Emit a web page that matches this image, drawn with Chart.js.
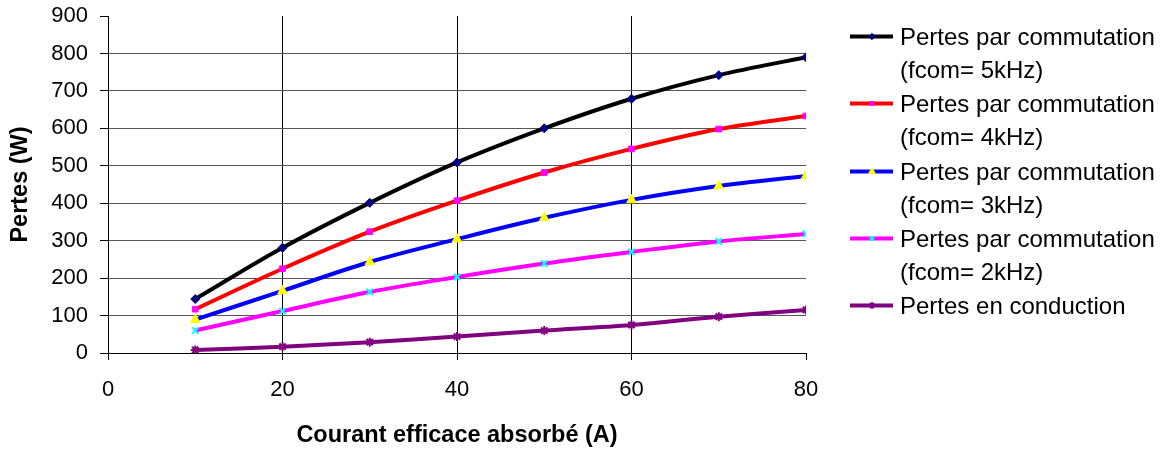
<!DOCTYPE html>
<html>
<head>
<meta charset="utf-8">
<script src="https://cdn.jsdelivr.net/npm/chart.js@4.4.1/dist/chart.umd.min.js"></script>
<style>
  html, body { margin: 0; padding: 0; background: #fff; }
  #wrap { position: relative; width: 1166px; height: 452px; overflow: hidden; }
  #c { position: absolute; left: 0; top: 0; }
  .lg { position: absolute; left: 850px; font-family: "Liberation Sans", Arial, sans-serif; font-size: 24px; line-height: 33px; color: #000; white-space: nowrap; }
  .lg canvas { position: absolute; left: 0; top: 0; }
  .lg span { position: absolute; left: 50px; top: 0; }
</style>
</head>
<body>
<div id="wrap">
  <canvas id="c" width="1166" height="452"></canvas>
</div>
<script>
// ---- data ----
const currents = [10, 20, 30, 40, 50, 60, 70, 80];
const commut5k = [144, 281, 401, 509, 600, 679, 742, 790];
const commut4k = [117, 225, 324, 407, 482, 545, 598, 633];
const commut3k = [89, 166, 243, 304, 361, 409, 446, 473];
const commut2k = [60, 112, 163, 203, 239, 270, 298, 318];
const conduction = [8, 17, 29, 44, 60, 75, 97, 115];
const xTicks = [0, 20, 40, 60, 80];
const yTicks = [0, 100, 200, 300, 400, 500, 600, 700, 800, 900];
const seriesLabels = [
  ["Pertes par commutation", "(fcom= 5kHz)"],
  ["Pertes par commutation", "(fcom= 4kHz)"],
  ["Pertes par commutation", "(fcom= 3kHz)"],
  ["Pertes par commutation", "(fcom= 2kHz)"],
  ["Pertes en conduction"]
];
const xTitle = "Courant efficace absorbé (A)";
const yTitle = "Pertes (W)";

const styles = [
  { line: '#000000', pt: 'rectRot', r: 4.5, bg: '#000080', bc: '#000080', bw: 1 },
  { line: '#FF0000', pt: 'rect', r: 4, bg: '#FF00FF', bc: '#FF00FF', bw: 1 },
  { line: '#0000FF', pt: 'triangle', r: 5.5, bg: '#FFFF00', bc: '#FFFF00', bw: 1 },
  { line: '#FF00FF', pt: 'crossRot', r: 4.5, bg: '#00FFFF', bc: '#00FFFF', bw: 2 },
  { line: '#800080', pt: 'star', r: 4.5, bg: '#800080', bc: '#800080', bw: 2 }
];
const values = [commut5k, commut4k, commut3k, commut2k, conduction];

const datasets = values.map((vals, i) => ({
  label: seriesLabels[i].join(' '),
  data: currents.map((x, k) => ({ x: x, y: vals[k] })),
  borderColor: styles[i].line,
  borderWidth: 4,
  tension: 0.35,
  pointStyle: styles[i].pt,
  pointRadius: styles[i].r,
  pointHoverRadius: styles[i].r,
  pointBackgroundColor: styles[i].bg,
  pointBorderColor: styles[i].bc,
  pointBorderWidth: styles[i].bw,
  fill: false
}));

const FONT = "'Liberation Sans', Arial, sans-serif";

new Chart(document.getElementById('c'), {
  type: 'line',
  data: { datasets: datasets },
  options: {
    responsive: false,
    animation: false,
    devicePixelRatio: 1,
    layout: { padding: { left: 0, right: 360, top: 16, bottom: 0 } },
    plugins: { legend: { display: false }, tooltip: { enabled: false } },
    scales: {
      x: {
        type: 'linear', min: 0, max: 80,
        afterBuildTicks: s => { s.ticks = xTicks.map(v => ({ value: v })); },
        afterFit: s => { s.height = 99; s.paddingLeft = 0; s.paddingRight = 0; },
        grid: {
          color: c => (c.tick && c.tick.value === 80) ? 'rgba(0,0,0,0)' : '#000',
          tickColor: '#000', tickLength: 7, lineWidth: 1
        },
        border: { color: '#000', width: 1 },
        ticks: { color: '#000', font: { family: FONT, size: 22 }, padding: 17, maxRotation: 0 },
        title: { display: true, text: xTitle, color: '#000', font: { family: FONT, size: 23.5, weight: 'bold' }, padding: { top: 0, bottom: 2 } }
      },
      y: {
        type: 'linear', min: 0, max: 900,
        afterBuildTicks: s => { s.ticks = yTicks.map(v => ({ value: v })); },
        afterFit: s => { s.width = 108; s.paddingTop = 0; s.paddingBottom = 0; },
        grid: {
          color: c => (c.tick && c.tick.value === 900) ? 'rgba(0,0,0,0)' : (c.tick && c.tick.value === 0 ? '#000' : '#555'),
          tickColor: '#000', tickLength: 8, lineWidth: 1
        },
        border: { color: '#000', width: 1 },
        ticks: { color: '#000', font: { family: FONT, size: 22 }, padding: 12 },
        title: { display: true, text: yTitle, color: '#000', font: { family: FONT, size: 23.5, weight: 'bold' }, padding: { top: 6, bottom: 0 } }
      }
    }
  }
});

// ---- HTML legend ----
const wrap = document.getElementById('wrap');
seriesLabels.forEach((lines, i) => {
  const d = document.createElement('div');
  d.className = 'lg';
  d.style.top = (20 + i * 67.3) + 'px';
  const cv = document.createElement('canvas');
  cv.width = 46; cv.height = 33;
  const ctx = cv.getContext('2d');
  ctx.strokeStyle = styles[i].line;
  ctx.lineWidth = 4;
  ctx.beginPath(); ctx.moveTo(0, 16.5); ctx.lineTo(43, 16.5); ctx.stroke();
  ctx.fillStyle = styles[i].bg; ctx.strokeStyle = styles[i].bc; ctx.lineWidth = styles[i].bw;
  Chart.helpers.drawPoint(ctx, { pointStyle: styles[i].pt, radius: styles[i].r * 0.7, borderWidth: styles[i].bw }, 22, 16.5);
  d.appendChild(cv);
  const sp = document.createElement('span');
  sp.innerHTML = lines.join('<br>');
  d.appendChild(sp);
  wrap.appendChild(d);
});
</script>
</body>
</html>
